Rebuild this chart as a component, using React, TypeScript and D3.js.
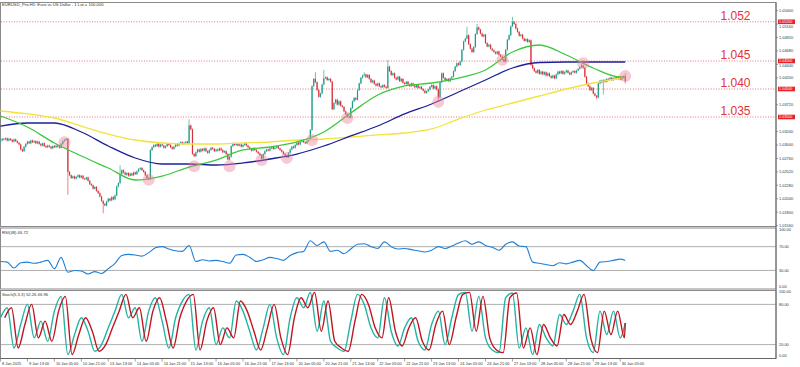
import * as d3 from 'd3';

// hourly closes, 8 Jan 21:00 .. 30 Jan 10:00
const closes = [
  1.0308, 1.0311,
  1.0310, 1.0312, 1.0308, 1.0311, 1.0309, 1.0306, 1.0310, 1.0307, 1.0304, 1.0301,
  1.0292, 1.0289, 1.0297, 1.0302, 1.0306, 1.0303, 1.0308, 1.0305, 1.0307, 1.0303,
  1.0306, 1.0302, 1.0299, 1.0303, 1.0298, 1.0296, 1.0299, 1.0297, 1.0294, 1.0298,
  1.0296, 1.0299, 1.0297, 1.0295, 1.0302, 1.0307, 1.0309, 1.0311,
  1.0252,
  1.0246, 1.0241, 1.0244, 1.0240, 1.0243, 1.0246, 1.0242, 1.0245, 1.0240, 1.0239, 1.0242, 1.0236, 1.0230,
  1.0228, 1.0222, 1.0225, 1.0218, 1.0214,
  1.0208, 1.0200, 1.0195, 1.0192, 1.0199, 1.0204, 1.0201, 1.0207, 1.0203, 1.0210,
  1.0226, 1.0232, 1.0248, 1.0255, 1.0251,
  1.0247, 1.0250, 1.0245, 1.0249, 1.0246, 1.0251, 1.0248, 1.0253, 1.0257, 1.0259, 1.0255, 1.0252, 1.0246, 1.0241, 1.0239,
  1.0291,
  1.0296, 1.0300, 1.0298, 1.0302, 1.0297, 1.0301, 1.0299, 1.0295, 1.0298, 1.0302, 1.0300,
  1.0296, 1.0293, 1.0297, 1.0301, 1.0299, 1.0303, 1.0305, 1.0302, 1.0304, 1.0306, 1.0303,
  1.0335, 1.0328,
  1.0284, 1.0280, 1.0287,
  1.0292, 1.0288, 1.0293, 1.0290, 1.0294, 1.0289, 1.0286, 1.0291, 1.0295, 1.0293,
  1.0289, 1.0292, 1.0290, 1.0294, 1.0291, 1.0287, 1.0289, 1.0284,
  1.0274, 1.0279,
  1.0298, 1.0303, 1.0300, 1.0302, 1.0299, 1.0301, 1.0297, 1.0300, 1.0303, 1.0299, 1.0296,
  1.0293, 1.0290, 1.0294, 1.0291, 1.0288, 1.0285, 1.0282,
  1.0276,
  1.0284, 1.0289, 1.0292, 1.0290, 1.0294, 1.0297, 1.0293, 1.0295, 1.0298, 1.0294, 1.0291, 1.0288, 1.0284, 1.0281,
  1.0278,
  1.0286, 1.0292, 1.0297, 1.0295, 1.0300, 1.0304, 1.0301, 1.0306, 1.0309, 1.0305, 1.0303, 1.0307, 1.0310,
  1.0327, 1.0405, 1.0418, 1.0412,
  1.0398, 1.0386, 1.0392,
  1.0408, 1.0419, 1.0421, 1.0416,
  1.0418, 1.0413,
  1.0364,
  1.0375, 1.0381, 1.0372, 1.0378, 1.0370, 1.0368,
  1.0360, 1.0355, 1.0351, 1.0349,
  1.0366, 1.0378, 1.0384, 1.0381,
  1.0398, 1.0410, 1.0420, 1.0424,
  1.0426, 1.0421, 1.0425,
  1.0418, 1.0412, 1.0415, 1.0409, 1.0406, 1.0410, 1.0405,
  1.0403, 1.0407, 1.0404, 1.0402,
  1.0440,
  1.0432, 1.0425, 1.0428, 1.0420, 1.0417, 1.0422,
  1.0414, 1.0418, 1.0411, 1.0409, 1.0413, 1.0408, 1.0405, 1.0410,
  1.0406, 1.0403, 1.0407, 1.0402, 1.0404, 1.0400,
  1.0397, 1.0393, 1.0396, 1.0399,
  1.0404, 1.0407, 1.0401, 1.0405, 1.0399,
  1.0385,
  1.0412, 1.0428,
  1.0420, 1.0415, 1.0418, 1.0414, 1.0419, 1.0422,
  1.0432, 1.0440, 1.0446, 1.0443, 1.0449,
  1.0470, 1.0485, 1.0490,
  1.0496,
  1.0480, 1.0472, 1.0466, 1.0475,
  1.0498, 1.0510, 1.0506,
  1.0499, 1.0494, 1.0497,
  1.0482, 1.0476, 1.0479, 1.0472, 1.0469,
  1.0466, 1.0463, 1.0467, 1.0461, 1.0458,
  1.0453, 1.0449,
  1.0470, 1.0488, 1.0496,
  1.0512, 1.0520, 1.0516,
  1.0508, 1.0502, 1.0495, 1.0497, 1.0490,
  1.0486, 1.0489, 1.0484, 1.0487,
  1.0443,
  1.0437, 1.0432, 1.0429, 1.0434, 1.0427, 1.0431, 1.0426, 1.0430, 1.0424,
  1.0428, 1.0423, 1.0420, 1.0424, 1.0419,
  1.0426, 1.0431, 1.0428, 1.0432, 1.0427, 1.0430, 1.0433, 1.0429, 1.0426, 1.0430, 1.0432, 1.0429, 1.0433, 1.0436,
  1.0439, 1.0442, 1.0438,
  1.0422, 1.0410, 1.0405,
  1.0398, 1.0402, 1.0392, 1.0388, 1.0385,
  1.0410, 1.0415,
  1.0412, 1.0416, 1.0413, 1.0418,
  1.0417, 1.0420, 1.0416, 1.0419,
  1.0421, 1.0418, 1.0422, 1.0417, 1.0420, 1.0423,
  1.0414,
];
const firstOpen = 1.0307;

// long wicks [bar, price]
const wickHigh = [
  [40, 1.0312], [71, 1.0264], [112, 1.0346], [187, 1.043], [192, 1.0434], [216, 1.043],
  [230, 1.0452], [277, 1.0511], [283, 1.0516], [304, 1.0529], [345, 1.0446], [371, 1.0428],
];
const wickLow = [
  [40, 1.0211], [61, 1.0178], [260, 1.038], [354, 1.0382], [358, 1.039], [371, 1.041],
];

// moving averages, sampled every 16 bars + last bar
const maFast = [1.03518, 1.03321, 1.03036, 1.02804, 1.02589, 1.02375, 1.02446, 1.02607, 1.02732, 1.02911, 1.02964, 1.03054, 1.03232, 1.03571, 1.03893, 1.04054, 1.04107, 1.04196, 1.04339, 1.04661, 1.04786, 1.04607, 1.04375, 1.04214, 1.04214];
const maMid = [1.03339, 1.03393, 1.03393, 1.03232, 1.02982, 1.02768, 1.02661, 1.02661, 1.02643, 1.02679, 1.0275, 1.02839, 1.02982, 1.03161, 1.03339, 1.03554, 1.03732, 1.03946, 1.04161, 1.04375, 1.04473, 1.04482, 1.04482, 1.04482, 1.04482];
const maSlow = [1.03607, 1.03554, 1.03482, 1.03339, 1.03196, 1.03089, 1.03036, 1.03018, 1.03018, 1.03036, 1.03054, 1.03089, 1.03107, 1.03143, 1.03179, 1.03214, 1.03286, 1.03464, 1.03625, 1.0375, 1.03875, 1.04, 1.04107, 1.04196, 1.04214];

// oscillators, sampled every 4 bars + last bar
const rsiValues = [
  45, 44, 34, 43, 44, 42, 44, 47, 33, 52, 27, 30, 29, 24, 28, 25, 33, 42, 55, 57,
  56, 54, 60, 68, 70, 66, 63, 62, 72, 45, 48, 46, 47, 45, 42, 56, 57, 52, 45, 48,
  52, 50, 47, 55, 60, 62, 80, 72, 78, 62, 64, 58, 66, 74, 75, 70, 67, 78, 70, 66,
  67, 65, 63, 61, 64, 70, 67, 71, 76, 80, 74, 78, 72, 69, 64, 74, 78, 71, 70, 44,
  42, 40, 38, 43, 41, 44, 47, 38, 30, 44, 45, 47, 49, 46.72,
];
const stochK = [
  60, 75, 15, 50, 80, 30, 55, 25, 70, 92, 5, 35, 60, 40, 10, 20, 45, 70, 95, 60,
  75, 25, 70, 90, 55, 15, 60, 85, 95, 12, 55, 75, 20, 45, 30, 85, 70, 40, 12, 45,
  80, 30, 5, 60, 90, 75, 98, 40, 85, 25, 15, 10, 55, 95, 80, 45, 30, 90, 40, 18,
  45, 60, 25, 12, 50, 70, 20, 60, 95, 98, 40, 92, 30, 12, 8, 90, 97, 15, 45, 5,
  50, 30, 18, 65, 50, 70, 95, 30, 8, 70, 35, 70, 30, 52.26,
];
const stochLag = 2.5; // %D trails %K by its 3-bar smoothing

const levelPrices = [1.052, 1.045, 1.04, 1.035];
const levelNames = ['1.052', '1.045', '1.040', '1.035'];
const levelBoxes = ['1.05200', '1.04500', '1.04000', '1.03500'];

const priceTicks = ['1.05400', '1.05160', '1.04920', '1.04680', '1.04440', '1.04200', '1.03720', '1.03240', '1.03000', '1.02760', '1.02520', '1.02280', '1.02040', '1.01800', '1.01560'];

const timeLabels = ['8 Jan 2025', '9 Jan 13:00', '10 Jan 05:00', '10 Jan 21:00', '13 Jan 13:00', '14 Jan 05:00', '14 Jan 21:00', '15 Jan 13:00', '16 Jan 05:00', '16 Jan 21:00', '17 Jan 13:00', '20 Jan 05:00', '20 Jan 21:00', '21 Jan 13:00', '22 Jan 05:00', '22 Jan 21:00', '23 Jan 13:00', '24 Jan 05:00', '24 Jan 21:00', '27 Jan 13:00', '28 Jan 05:00', '28 Jan 21:00', '29 Jan 13:00', '30 Jan 05:00'];

// pink touch markers
const touchBars = [38, 88, 115, 136, 155, 170, 185, 206, 260, 298, 346, 371];
const touchPrices = [1.0305, 1.0238, 1.0262, 1.0262, 1.0273, 1.0277, 1.0309, 1.0348, 1.0377, 1.0452, 1.0446, 1.0423];

const FONT = 'Liberation Sans, Arial, sans-serif';
const AXIS_X = 776;
const MAIN = { top: 2.5, bottom: 226.5 };
const RSI = { top: 228, bottom: 289 };
const STO = { top: 290.5, bottom: 358.5 };

export default function App() {
  const last = closes.length - 1;
  const x = d3.scaleLinear().domain([0, 371]).range([0.5, 0.5 + 371 * 1.684]);
  const y = d3.scaleLinear().domain([1.035, 1.052]).range([117, 21.8]);
  const yRsi = d3.scaleLinear().domain([0, 100]).range([288.3, 228.8]);
  const ySto = d3.scaleLinear().domain([0, 100]).range([358, 291]);

  const hiMap = new Map(wickHigh.map(d => [d[0], d[1]]));
  const loMap = new Map(wickLow.map(d => [d[0], d[1]]));
  const candles = closes.map((c, i) => {
    const o = i === 0 ? firstOpen : closes[i - 1];
    const hi = hiMap.get(i) ?? Math.max(o, c) + 0.00015;
    const lo = loMap.get(i) ?? Math.min(o, c) - 0.00015;
    return { i, o, c, hi, lo };
  });

  const maBars = [...d3.range(0, 369, 16), last];
  const oscBars = [...d3.range(0, 369, 4), last];

  const maLine = d3.line<number>()
    .x((_, j) => x(maBars[j]))
    .y(v => y(v))
    .curve(d3.curveMonotoneX);
  const rsiLine = d3.line<number>()
    .x((_, j) => x(oscBars[j]))
    .y(v => yRsi(v))
    .curve(d3.curveMonotoneX);
  const kLine = d3.line<number>()
    .x((_, j) => x(oscBars[j]))
    .y(v => ySto(v))
    .curve(d3.curveMonotoneX);
  const dLine = d3.line<number>()
    .x((_, j) => x(Math.min(oscBars[j] + stochLag, last)))
    .y(v => ySto(v))
    .curve(d3.curveMonotoneX);

  // price tick labels keep clear of the red level boxes
  const boxYs = levelPrices.map(p => y(p));
  const tickY = (t: string) => {
    const v = y(+t);
    const near = boxYs.find(b => Math.abs(b - v) < 5);
    return near === undefined ? v : near + (v > near ? 5 : -5);
  };

  const bull = '#1f9c88';
  const bear = '#d7333b';
  const red = '#e0343c';

  return (
    <div>
      <style>{`body{margin:0;background:#fff}`}</style>
      <svg width={800} height={367} style={{ display: 'block', background: '#fff' }} fontFamily={FONT}>
        <defs>
          <clipPath id="mainClip">
            <rect x={0} y={MAIN.top} width={AXIS_X} height={MAIN.bottom - MAIN.top} />
          </clipPath>
          <clipPath id="stoClip">
            <rect x={0} y={STO.top} width={AXIS_X} height={STO.bottom - STO.top} />
          </clipPath>
        </defs>

        {/* panel frames */}
        {[MAIN, RSI, STO].map((p, k) => (
          <rect key={k} x={0.5} y={p.top} width={AXIS_X - 0.5} height={p.bottom - p.top}
            fill="none" stroke="#8a8a8a" strokeWidth={1} />
        ))}

        {/* header */}
        <text x={2} y={6} fontSize={4.2} fill="#333">EURUSD_Pro,H1:  Euro vs US Dollar - 1 Lot = 100,000</text>

        {/* support / resistance levels */}
        {levelPrices.map((p, k) => (
          <g key={k}>
            <line x1={1} x2={AXIS_X} y1={y(p)} y2={y(p)} stroke={red} strokeWidth={0.8}
              strokeDasharray="1,1.6" opacity={0.85} />
            <text x={720.5} y={y(p) - 2.2} fontSize={12} fill={red}>{levelNames[k]}</text>
          </g>
        ))}

        {/* candles */}
        <g clipPath="url(#mainClip)">
          {candles.map(d => {
            const col = d.c >= d.o ? bull : bear;
            const top = y(Math.max(d.o, d.c));
            const h = Math.max(0.7, Math.abs(y(d.o) - y(d.c)));
            return (
              <g key={d.i}>
                <line x1={x(d.i)} x2={x(d.i)} y1={y(d.hi)} y2={y(d.lo)} stroke={col} strokeWidth={0.6} />
                <rect x={x(d.i) - 0.6} y={top} width={1.2} height={h} fill={col} />
              </g>
            );
          })}

          {/* moving averages */}
          <path d={maLine(maSlow) ?? ''} fill="none" stroke="#f2e33c" strokeWidth={1.3} />
          <path d={maLine(maMid) ?? ''} fill="none" stroke="#1d1f9a" strokeWidth={1.3} />
          <path d={maLine(maFast) ?? ''} fill="none" stroke="#3cc83c" strokeWidth={1.3} />

          {touchBars.map((b, k) => (
            <circle key={k} cx={x(b)} cy={y(touchPrices[k])} r={6} fill="#ef7f98" opacity={0.42} />
          ))}
        </g>

        {/* RSI panel */}
        <text x={2} y={233.5} fontSize={4.2} fill="#333">RSI(48) 46.72</text>
        {[70, 30].map(v => (
          <line key={v} x1={1} x2={AXIS_X} y1={yRsi(v)} y2={yRsi(v)} stroke="#9a9a9a" strokeWidth={0.8} />
        ))}
        <path d={rsiLine(rsiValues) ?? ''} fill="none" stroke="#1f80d6" strokeWidth={1.1} />

        {/* Stochastic panel */}
        <text x={2} y={295.5} fontSize={4.2} fill="#333">Stoch(5,3,3) 52.26 46.96</text>
        {[80, 20].map(v => (
          <line key={v} x1={1} x2={AXIS_X} y1={ySto(v)} y2={ySto(v)} stroke="#9a9a9a" strokeWidth={0.8} />
        ))}
        <g clipPath="url(#stoClip)">
          <path d={kLine(stochK) ?? ''} fill="none" stroke="#22b3a3" strokeWidth={1.4} />
          <path d={dLine(stochK) ?? ''} fill="none" stroke="#c0141f" strokeWidth={1.4} />
        </g>

        {/* right price axis */}
        <line x1={AXIS_X} x2={AXIS_X} y1={MAIN.top} y2={STO.bottom} stroke="#666" strokeWidth={1} />
        {priceTicks.map(t => (
          <g key={t}>
            <line x1={AXIS_X} x2={AXIS_X + 2} y1={y(+t)} y2={y(+t)} stroke="#666" strokeWidth={0.6} />
            <text x={AXIS_X + 3} y={tickY(t) + 1.4} fontSize={3.9} fill="#333">{t}</text>
          </g>
        ))}
        {levelPrices.map((p, k) => (
          <g key={k}>
            <rect x={AXIS_X + 2} y={y(p) - 2.3} width={17} height={4.6} fill="#e8202a" />
            <text x={AXIS_X + 3} y={y(p) + 1.3} fontSize={3.7} fill="#fff">{levelBoxes[k]}</text>
          </g>
        ))}
        {[['100.00', 230.6], ['70.00', yRsi(70) + 1.4], ['30.00', yRsi(30) + 1.4], ['0.00', 287.8]].map(([t, v]) => (
          <text key={'r' + t} x={AXIS_X + 3} y={+v} fontSize={3.9} fill="#333">{t}</text>
        ))}
        {[['100.00', 293.4], ['80.00', ySto(80) + 1.4], ['20.00', ySto(20) + 1.4], ['0.00', 357.4]].map(([t, v]) => (
          <text key={'s' + t} x={AXIS_X + 3} y={+v} fontSize={3.9} fill="#333">{t}</text>
        ))}

        {/* time axis */}
        <line x1={0.5} x2={AXIS_X} y1={STO.bottom} y2={STO.bottom} stroke="#666" strokeWidth={1} />
        {timeLabels.map((t, k) => (
          <g key={t}>
            <line x1={x(k * 16)} x2={x(k * 16)} y1={STO.bottom} y2={STO.bottom + 3} stroke="#666" strokeWidth={0.6} />
            <text x={x(k * 16) + 1.5} y={364.5} fontSize={3.9} fill="#333">{t}</text>
          </g>
        ))}
      </svg>
    </div>
  );
}
